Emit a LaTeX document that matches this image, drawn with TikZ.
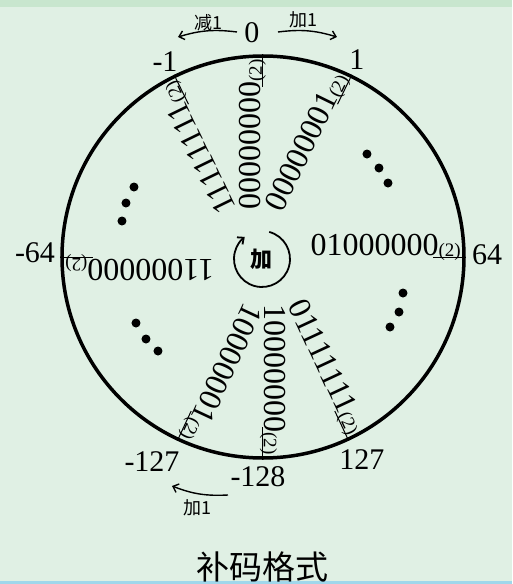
\documentclass[tikz,border=0pt]{standalone}
\usepackage{fontspec}
\setmainfont{Liberation Serif}
\newfontfamily\cjk{Noto Sans CJK SC}
\usepackage{tikz}
\usetikzlibrary{arrows.meta, calc}
\definecolor{mybg}{RGB}{224,240,228}
\definecolor{mytop}{RGB}{200,230,206}
\definecolor{myedge}{RGB}{160,215,235}
\tikzstyle{code} = [font=\fontsize{32}{32}\selectfont, inner sep=0pt, anchor=base east]
\tikzstyle{endnum} = [font=\fontsize{30}{30}\selectfont, inner sep=0pt]
\tikzstyle{hint} = [font=\cjk\fontsize{18}{18}\selectfont, inner sep=0pt]
\tikzstyle{blob} = [circle, fill=black, inner sep=0pt, minimum size=9pt]
\tikzstyle{turn} = [line width=1.4pt, -{Straight Barb[length=5pt,width=9pt]}]
\newcommand{\bincode}[1]{#1\raisebox{-1pt}{\fontsize{19}{19}\selectfont(2)}}

\begin{document}
\begin{tikzpicture}[x=1pt, y=1pt]
% background
\fill[mybg] (-263,-327) rectangle (249,257);
\fill[mytop] (-263,250) rectangle (249,257);
\fill[myedge] (-263,-327) rectangle (249,-324);

\node[
    circle,
    draw,
    line width=3.5pt,
    minimum size=402pt,
    inner sep=0pt
] (ring) at (0,0) {};

% codes along the radii
\foreach \ang/\val in {90/00000000, 64/00000001, 116/11111111, 0/01000000,
    180/11000000, 270/10000000, 295/01111111, 245/10000001}
{
    \node[code, rotate=\ang] (code\ang) at ($(\ang:198)+(\ang+90:2)$) {\bincode{\val}};
    \draw[line width=1pt] (\ang:170) -- (ring.\ang);
}

% values on the ring
\node[endnum] (zero) at (-11,224) {0};
\node[endnum] (mone) at (-98,195) {-1};
\node[endnum] (one) at (94,197) {1};
\node[endnum] (msixtyfour) at (-228,4) {-64};
\node[endnum] (sixtyfour) at (224,2) {64};
\node[endnum] (mmax) at (-111,-205) {-127};
\node[endnum] (mmin) at (-5,-220) {-128};
\node[endnum] (max) at (99,-203) {127};

% step arrows
\node[hint] (dec) at (-55,234) {减1};
\node[hint] (inc) at (40,237) {加1};
\node[hint] (wrap) at (-66,-251) {加1};
\coordinate (decs) at (-26,225);
\coordinate (dece) at (-85,220);
\coordinate (incs) at (15,225);
\coordinate (ince) at (74,220);
\coordinate (wraps) at (-35,-238);
\coordinate (wrape) at (-91,-229);
\draw[turn] (decs) to[bend right=12] (dece);
\draw[turn] (incs) to[bend left=12] (ince);
\draw[turn] (wraps) to[bend left=12] (wrape);

% direction in the middle
\node[font=\cjk\bfseries\fontsize{22}{22}\selectfont, inner sep=0pt] (add) at (-1,-2) {加};
\draw[turn, line width=1.8pt] ($(add.center)+(75:28)$) arc[start angle=75, end angle=-232, radius=28];

% ellipses
\foreach \px/\py [count=\i] in {-129/70, -137/54, -141/36, -127/-66, -117/-82, -105/-94,
    104/103, 116/89, 125/74, 140/-36, 136/-55, 127/-70}
    \node[blob] (gap\i) at (\px,\py) {};

\node[font=\cjk\fontsize{33}{33}\selectfont, inner sep=0pt] (title) at (0,-310) {补码格式};

\end{tikzpicture}
\end{document}
